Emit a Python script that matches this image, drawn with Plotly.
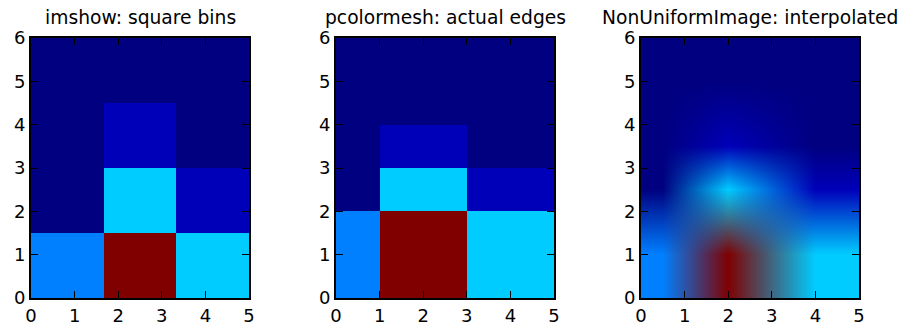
import numpy as np
import plotly.graph_objects as go

titles = ["imshow: square bins", "pcolormesh: actual edges", "NonUniformImage: interpolated"]
x_edges = [0, 1, 3, 5]
y_edges = [0, 2, 3, 4, 6]
x_ticks = [0, 1, 2, 3, 4, 5]
y_ticks = [0, 1, 2, 3, 4, 5, 6]
# bin values, bottom row first
row_0_2 = [10, 40, 13]
row_2_3 = [0, 13, 2]
row_3_4 = [0, 2, 0]
row_4_6 = [0, 0, 0]
H = np.array([row_0_2, row_2_3, row_3_4, row_4_6], dtype=float)
H_MAX = H.max()

JET_R = ([0, .35, .66, .89, 1], [0, 0, 1, 1, .5])
JET_G = ([0, .125, .375, .64, .91, 1], [0, 0, 1, 1, 0, 0])
JET_B = ([0, .11, .34, .65, 1], [.5, 1, 1, 0, 0])


def jet(v):
    v = np.asarray(v, dtype=float)
    return np.stack([np.interp(v, *JET_R), np.interp(v, *JET_G), np.interp(v, *JET_B)], axis=-1)


stops = np.linspace(0, 1, 257)
colorscale = [[float(s), "rgb(%d,%d,%d)" % tuple(np.round(jet(s) * 255))] for s in stops]

W, H_PX = 899, 326
LEFTS = [31, 336, 641]
PW, TOP, BOTTOM = 218, 38, 298

fig = go.Figure()

imshow_x = np.linspace(0, 5, H.shape[1] + 1)
imshow_y = np.linspace(0, 6, H.shape[0] + 1)
fig.add_trace(go.Heatmap(z=H, x=imshow_x, y=imshow_y, xaxis="x", yaxis="y", colorscale=colorscale,
                         zmin=0, zmax=H_MAX, showscale=False))
fig.add_trace(go.Heatmap(z=H, x=x_edges, y=y_edges, xaxis="x2", yaxis="y2", colorscale=colorscale,
                         zmin=0, zmax=H_MAX, showscale=False))

# NonUniformImage: bin colours blended linearly between bin centres
xc = (np.array(x_edges[:-1]) + np.array(x_edges[1:])) / 2
yc = (np.array(y_edges[:-1]) + np.array(y_edges[1:])) / 2
rgb = jet(H / H_MAX) * 255
gx = (np.arange(PW) + .5) * 5 / PW
gy = (np.arange(BOTTOM - TOP) + .5) * 6 / (BOTTOM - TOP)
by_x = np.stack([[np.interp(gx, xc, rgb[j, :, c]) for c in range(3)] for j in range(len(yc))])
img = np.stack([[np.interp(gy, yc, by_x[:, c, i]) for i in range(PW)] for c in range(3)], axis=-1)
img = np.transpose(img, (1, 0, 2))
fig.add_trace(go.Image(z=np.round(img).astype(int).tolist(), x0=gx[0], dx=gx[1] - gx[0], y0=gy[0], dy=gy[1] - gy[0],
                       xaxis="x3", yaxis="y3", colormodel="rgb", hoverinfo="skip"))

FONT = "DejaVu Sans"
axis = dict(showgrid=False, zeroline=False, showline=True, linecolor="black", linewidth=2, mirror="allticks",
            ticks="inside", ticklen=7, tickwidth=1, tickcolor="black", tickfont=dict(family=FONT, size=18, color="black"),
            layer="above traces", automargin=False)
layout = dict(width=W, height=H_PX, margin=dict(l=0, r=0, t=0, b=0, pad=0), paper_bgcolor="white", plot_bgcolor="white",
              autosize=False, showlegend=False)
annotations = []
for i, left in enumerate(LEFTS):
    s = "" if i == 0 else str(i + 1)
    dom_x = [left / W, (left + PW) / W]
    dom_y = [1 - BOTTOM / H_PX, 1 - TOP / H_PX]
    layout["xaxis" + s] = dict(axis, domain=dom_x, range=[0, 5], tickvals=x_ticks, anchor="y" + s, constrain="range")
    layout["yaxis" + s] = dict(axis, domain=dom_y, range=[0, 6], tickvals=y_ticks, anchor="x" + s, constrain="range",
                               scaleanchor=False)
    annotations.append(dict(text=titles[i], x=(left + PW / 2) / W, y=1 - 30 / H_PX, xref="paper", yref="paper",
                            xanchor="center", yanchor="bottom", showarrow=False,
                            font=dict(family=FONT, size=18.7, color="black")))
fig.update_layout(**layout, annotations=annotations)
fig.write_html("out.html", config={"displayModeBar": False},
               post_script="document.body.style.margin='0';document.body.style.overflow='hidden';")
